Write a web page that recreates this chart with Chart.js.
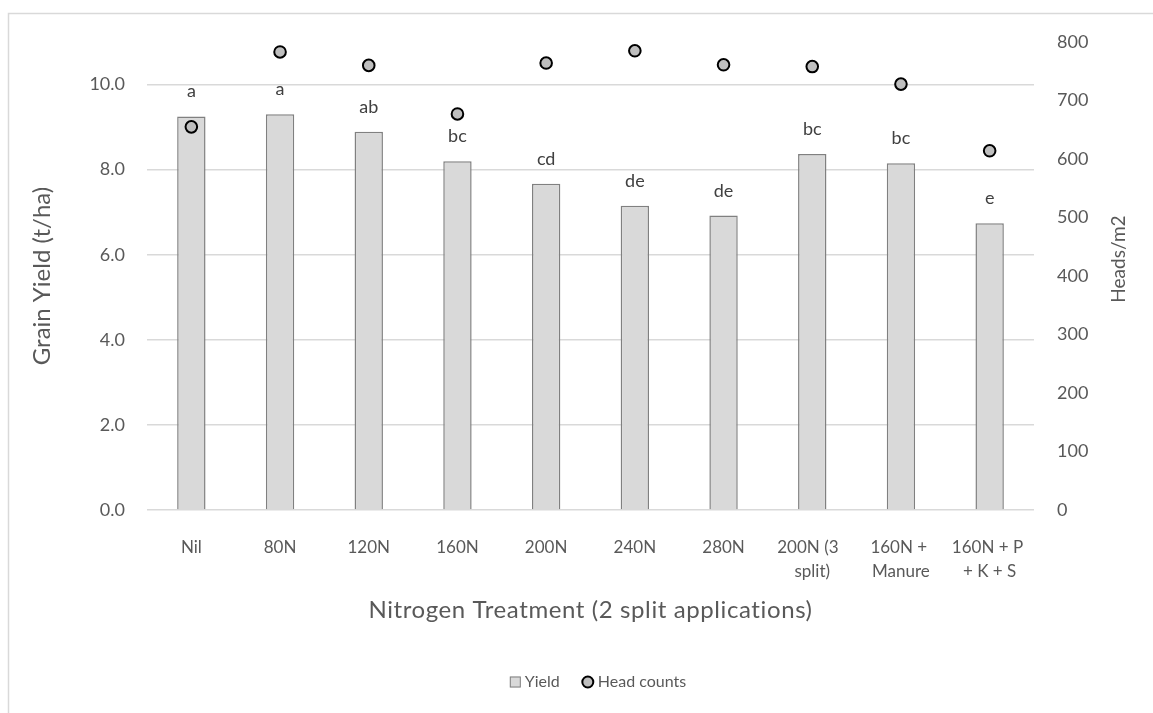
<!DOCTYPE html>
<html lang="en">
<head>
<meta charset="UTF-8">
<title>Grain yield and head counts by nitrogen treatment</title>
<script src="https://cdn.jsdelivr.net/npm/chart.js@4.4.0/dist/chart.umd.min.js"></script>
<style>
    html, body { margin: 0; padding: 0; background: #fff; overflow: hidden; }
    #wrap { position: relative; width: 1153px; height: 713px; }
</style>
</head>
<body>
<div id="wrap"><canvas id="yieldChart" width="1153" height="713"></canvas></div>
<script>
// treatments on the x axis (arrays = wrapped labels)
const treatments = ['Nil', '80N', '120N', '160N', '200N', '240N', '280N',
    ['200N (3  ', 'split)'], ['160N + ', 'Manure'], ['160N + P ', '+ K + S']];
// grain yield, t/ha (left axis)
const yieldValues = [9.25, 9.30, 8.89, 8.20, 7.67, 7.15, 6.92, 8.37, 8.15, 6.74];
// heads per m2 (right axis)
const headCounts = [655, 783, 760, 677, 764, 785, 761, 758, 728, 614];
// significance letters above the bars
const sigLetters = ['a', 'a', 'ab', 'bc', 'cd', 'de', 'de', 'bc', 'bc', 'e'];

const textGrey = '#595959';
const gridGrey = '#d9d9d9';

Chart.defaults.font.family = 'Lato';

// letters, axis titles, legend and the outer frame
const extras = {
    id: 'extras',
    beforeDraw(chart) {
        const ctx = chart.ctx;
        ctx.save();
        ctx.strokeStyle = gridGrey;
        ctx.lineWidth = 1.5;
        ctx.beginPath();
        ctx.moveTo(8.5, 800);
        ctx.lineTo(8.5, 13.5);
        ctx.lineTo(1200, 13.5);
        ctx.stroke();
        ctx.restore();
    },
    afterDatasetsDraw(chart) {
        const ctx = chart.ctx;
        const area = chart.chartArea;
        ctx.save();

        // letters over each bar
        ctx.font = '18px Lato';
        ctx.fillStyle = '#404040';
        ctx.textAlign = 'center';
        ctx.textBaseline = 'alphabetic';
        chart.getDatasetMeta(0).data.forEach((bar, i) => {
            ctx.fillText(sigLetters[i], bar.x, bar.y - 19);
        });

        // axis titles
        ctx.fillStyle = textGrey;
        ctx.textBaseline = 'middle';
        ctx.font = '24px Lato';
        ctx.letterSpacing = '0.6px';
        ctx.fillText('Nitrogen Treatment (2 split applications)', (area.left + area.right) / 2, 610);
        ctx.letterSpacing = '0px';

        ctx.save();
        ctx.translate(42, (area.top + area.bottom) / 2);
        ctx.rotate(-Math.PI / 2);
        ctx.fillText('Grain Yield (t/ha)', 0, 0);
        ctx.restore();

        ctx.save();
        ctx.font = '19px Lato';
        ctx.translate(1119, 259);
        ctx.rotate(-Math.PI / 2);
        ctx.fillText('Heads/m2', 0, 0);
        ctx.restore();

        // legend
        ctx.font = '16px Lato';
        ctx.textAlign = 'left';
        const w1 = ctx.measureText('Yield').width;
        const w2 = ctx.measureText('Head counts').width;
        const total = 11 + 4 + w1 + 22 + 12 + 4 + w2;
        let x = 598 - total / 2;
        const y = 682;
        ctx.fillStyle = '#d9d9d9';
        ctx.strokeStyle = '#808080';
        ctx.lineWidth = 1;
        ctx.fillRect(x, y - 5.5, 11, 11);
        ctx.strokeRect(x + 0.5, y - 5, 10, 10);
        x += 15;
        ctx.fillStyle = textGrey;
        ctx.fillText('Yield', x, y);
        x += w1 + 22 + 6;
        ctx.beginPath();
        ctx.arc(x, y, 5.5, 0, Math.PI * 2);
        ctx.fillStyle = '#bfbfbf';
        ctx.fill();
        ctx.strokeStyle = '#000';
        ctx.lineWidth = 2;
        ctx.stroke();
        x += 10;
        ctx.fillStyle = textGrey;
        ctx.fillText('Head counts', x, y);

        ctx.restore();
    }
};

const ctx = document.getElementById('yieldChart').getContext('2d');
const yieldChart = new Chart(ctx, {
    type: 'bar',
    data: {
        labels: treatments,
        datasets: [
            {
                label: 'Yield',
                data: yieldValues,
                yAxisID: 'y',
                backgroundColor: '#d9d9d9',
                borderColor: '#808080',
                borderWidth: 1.5,
                barPercentage: 1,
                categoryPercentage: 0.32,
                order: 2
            },
            {
                type: 'line',
                label: 'Head counts',
                data: headCounts,
                yAxisID: 'y1',
                showLine: false,
                pointRadius: 5.8,
                pointBorderWidth: 2,
                pointBorderColor: '#000',
                pointBackgroundColor: '#bfbfbf',
                order: 1
            }
        ]
    },
    options: {
        responsive: false,
        animation: false,
        events: [],
        layout: { padding: { top: 42, left: 0, right: 0, bottom: 0 } },
        plugins: {
            legend: { display: false },
            tooltip: { enabled: false }
        },
        scales: {
            x: {
                grid: { display: false, drawTicks: false },
                border: { display: false },
                ticks: {
                    color: textGrey,
                    font: { size: 17, lineHeight: 1.4 },
                    padding: 26,
                    maxRotation: 0,
                    autoSkip: false
                },
                afterFit(scale) { scale.height = 203; }
            },
            y: {
                position: 'left',
                min: 0,
                max: 11,
                grid: { color: gridGrey, lineWidth: 1.5, drawTicks: false },
                border: { display: false },
                ticks: {
                    stepSize: 2,
                    includeBounds: false,
                    color: textGrey,
                    font: { size: 18 },
                    padding: 22,
                    callback: v => v.toFixed(1)
                },
                afterFit(scale) { scale.width = 147; }
            },
            y1: {
                position: 'right',
                min: 0,
                max: 800,
                grid: { display: false, drawTicks: false },
                border: { display: false },
                ticks: {
                    stepSize: 100,
                    color: textGrey,
                    font: { size: 18 },
                    padding: 23
                },
                afterFit(scale) { scale.width = 119; }
            }
        }
    },
    plugins: [extras]
});
</script>
</body>
</html>
